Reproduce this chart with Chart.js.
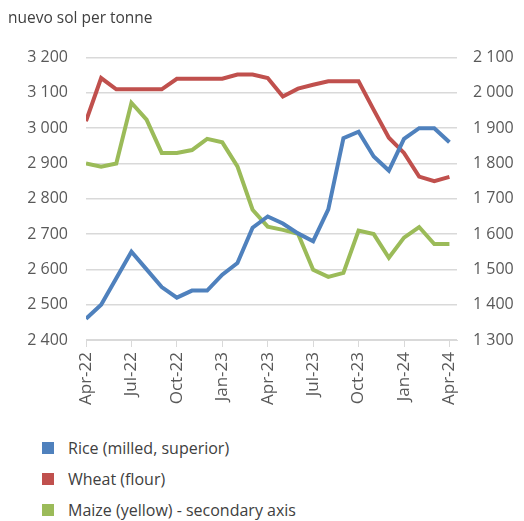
<!DOCTYPE html>
<html>
<head>
<meta charset="utf-8">
<script src="https://cdn.jsdelivr.net/npm/chart.js@4/dist/chart.umd.min.js"></script>
<style>
    body { margin: 0; background: #fff; font-family: 'Open Sans', sans-serif; }
    #wrap { position: relative; width: 524px; height: 521px; }
    #legend { position: absolute; left: 42px; top: 432px; color: #404040; font-size: 16px; }
    .item { height: 31px; display: flex; align-items: center; }
    .box { width: 12px; height: 12px; margin-right: 14px; }
</style>
</head>
<body>
<div id="wrap">
    <canvas id="chart" width="524" height="425"></canvas>
    <div id="legend"></div>
</div>
<script>
const months = ['Apr-22', 'May-22', 'Jun-22', 'Jul-22', 'Aug-22', 'Sep-22', 'Oct-22', 'Nov-22', 'Dec-22',
    'Jan-23', 'Feb-23', 'Mar-23', 'Apr-23', 'May-23', 'Jun-23', 'Jul-23', 'Aug-23', 'Sep-23', 'Oct-23',
    'Nov-23', 'Dec-23', 'Jan-24', 'Feb-24', 'Mar-24', 'Apr-24'];

const rice = [2460, 2500, 2575, 2650, 2600, 2550, 2520, 2540, 2540, 2585, 2618, 2718, 2750,
    2730, 2702, 2680, 2770, 2972, 2990, 2920, 2880, 2970, 3000, 3000, 2960];
const wheat = [3020, 3142, 3110, 3110, 3110, 3110, 3140, 3140, 3140, 3140, 3152, 3152, 3142,
    3090, 3112, 3123, 3133, 3133, 3133, 3052, 2973, 2930, 2863, 2850, 2862];
const maize = [1800, 1791, 1800, 1972, 1924, 1830, 1830, 1838, 1870, 1860, 1792, 1669, 1621,
    1612, 1601, 1499, 1479, 1490, 1610, 1600, 1533, 1590, 1620, 1572, 1572];

const leftTicks = [2400, 2500, 2600, 2700, 2800, 2900, 3000, 3100, 3200];
const rightTicks = [1300, 1400, 1500, 1600, 1700, 1800, 1900, 2000, 2100];

const seriesInfo = [
    { label: 'Rice (milled, superior)', data: rice, color: '#4F81BD', axis: 'y' },
    { label: 'Wheat (flour)', data: wheat, color: '#C0504D', axis: 'y' },
    { label: 'Maize (yellow) - secondary axis', data: maize, color: '#9BBB59', axis: 'y1' }
];

const fmt = v => v.toString().replace(/\B(?=(\d{3})+(?!\d))/g, ' ');
const textColor = '#595959';
const gridColor = '#d9d9d9';

new Chart(document.getElementById('chart'), {
    type: 'line',
    data: {
        datasets: seriesInfo.map(s => ({
            label: s.label,
            data: s.data.map((v, i) => ({ x: i, y: v })),
            borderColor: s.color,
            backgroundColor: s.color,
            borderWidth: 4,
            pointRadius: 0,
            tension: 0,
            yAxisID: s.axis
        }))
    },
    options: {
        responsive: false,
        animation: false,
        layout: { padding: { left: 8, right: 0, top: 0, bottom: 0 } },
        plugins: {
            legend: { display: false },
            tooltip: { enabled: false },
            title: {
                display: true,
                text: 'nuevo sol per tonne',
                align: 'start',
                color: '#404040',
                font: { family: "'Open Sans', sans-serif", size: 15.5, weight: 'normal' },
                padding: { top: 9, bottom: 30 }
            }
        },
        scales: {
            x: {
                type: 'linear',
                min: 0,
                max: 24.5,
                afterBuildTicks: s => { s.ticks = months.map((m, i) => ({ value: i })).filter(t => t.value % 3 === 0); },
                afterFit: s => { s.height = 85; },
                ticks: {
                    autoSkip: false,
                    maxRotation: 90,
                    minRotation: 90,
                    padding: 5,
                    color: textColor,
                    font: { family: "'Open Sans', sans-serif", size: 17 },
                    callback: v => months[v]
                },
                grid: { drawOnChartArea: false, tickLength: 7, color: gridColor, lineWidth: 1 },
                border: { display: true, color: gridColor }
            },
            y: {
                position: 'left',
                min: 2400,
                max: 3200,
                afterBuildTicks: s => { s.ticks = leftTicks.map(v => ({ value: v })); },
                afterFit: s => { s.width = 78; },
                ticks: {
                    padding: 18,
                    color: textColor,
                    font: { family: "'Open Sans', sans-serif", size: 16 },
                    callback: v => fmt(v)
                },
                grid: { color: gridColor, lineWidth: 1.5, drawTicks: false },
                border: { display: false }
            },
            y1: {
                position: 'right',
                min: 1300,
                max: 2100,
                afterBuildTicks: s => { s.ticks = rightTicks.map(v => ({ value: v })); },
                afterFit: s => { s.width = 67; },
                ticks: {
                    padding: 16,
                    color: textColor,
                    font: { family: "'Open Sans', sans-serif", size: 16 },
                    callback: v => fmt(v)
                },
                grid: { drawOnChartArea: false, drawTicks: false },
                border: { display: false }
            }
        }
    }
});

// legend, one item per row like the original
const legend = document.getElementById('legend');
seriesInfo.forEach(s => {
    const div = document.createElement('div');
    div.className = 'item';
    div.innerHTML = `<span class="box" style="background:${s.color}"></span><span>${s.label}</span>`;
    legend.appendChild(div);
});
</script>
</body>
</html>
